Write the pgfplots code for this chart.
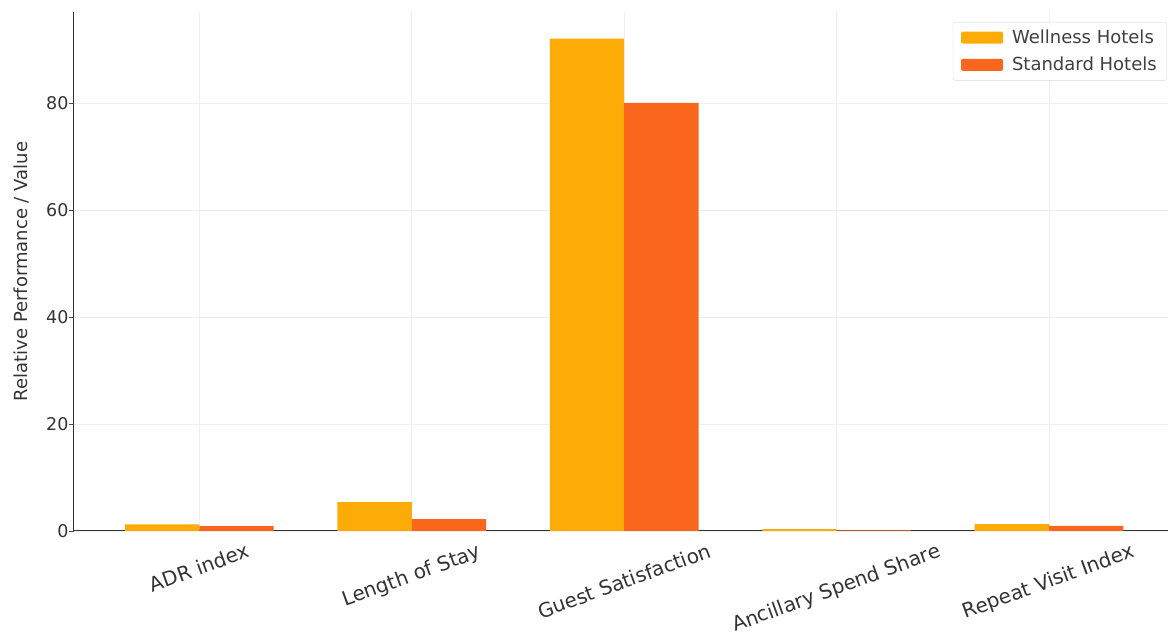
\documentclass[border=0pt]{standalone}
\usepackage{fontspec}
\setmainfont{DejaVu Sans}
\usepackage{graphicx}
\usepackage{pgfplots}
\pgfplotsset{compat=1.18}
\definecolor{well}{RGB}{253,172,7}
\definecolor{stand}{RGB}{250,102,28}
\begin{document}
\begin{tikzpicture}
\begin{axis}[
  scale only axis, width=1094pt, height=519pt,
  ybar=0pt, bar width=0.35,
  xmin=-0.59, xmax=4.56, ymin=0, ymax=97,
  xtick={0,1,2,3,4},
  xticklabels={\rotatebox{20}{ADR index}, \rotatebox{20}{Length of Stay}, \rotatebox{20}{Guest Satisfaction}, \rotatebox{20}{Ancillary Spend Share}, \rotatebox{20}{Repeat Visit Index}},
  ytick={0,20,40,60,80},
  /pgf/number format/assume math mode=true,
  yticklabel style={font=\fontsize{17.5}{20}\selectfont, text=black!80, xshift=3pt},
  xticklabel style={font=\fontsize{20}{24}\selectfont, text=black!80, anchor=north, yshift=-3pt},
  ylabel={Relative Performance / Value},
  ylabel style={font=\fontsize{18}{22}\selectfont, text=black!80, at={(axis description cs:-0.0484,0.5)}, anchor=center},
  grid=major, grid style={gray!12, line width=0.6pt},
  axis x line*=bottom, axis y line*=left,
  axis line style={black!80, line width=1pt, -},
  tick style={black!70},
  major tick length=5pt,
  xtick style={draw=none},
  tick align=outside,
  legend style={at={(0.999,0.981)}, anchor=north east, font=\fontsize{18}{21}\selectfont, draw=gray!30, rounded corners=2pt, inner xsep=8pt, inner ysep=6pt, row sep=8pt, column sep=7pt, text=black!75},
  legend cell align=left,
  legend image code/.code={\fill[#1] (0pt,-6pt) rectangle (42pt,6pt);},
]
\addplot[fill=well, draw=none] coordinates {(0,1.25) (1,5.4) (2,92) (3,0.35) (4,1.3)};
\addplot[fill=stand, draw=none] coordinates {(0,0.9) (1,2.2) (2,80) (3,0.1) (4,0.95)};
\legend{Wellness Hotels, Standard Hotels}
\coordinate (o) at (rel axis cs:0,0);
\coordinate (t) at (rel axis cs:1,1);
\end{axis}
\pgfresetboundingbox
\useasboundingbox ([xshift=-74pt,yshift=-110pt]o) rectangle ([xshift=2pt,yshift=12pt]t);
\end{tikzpicture}
\end{document}
